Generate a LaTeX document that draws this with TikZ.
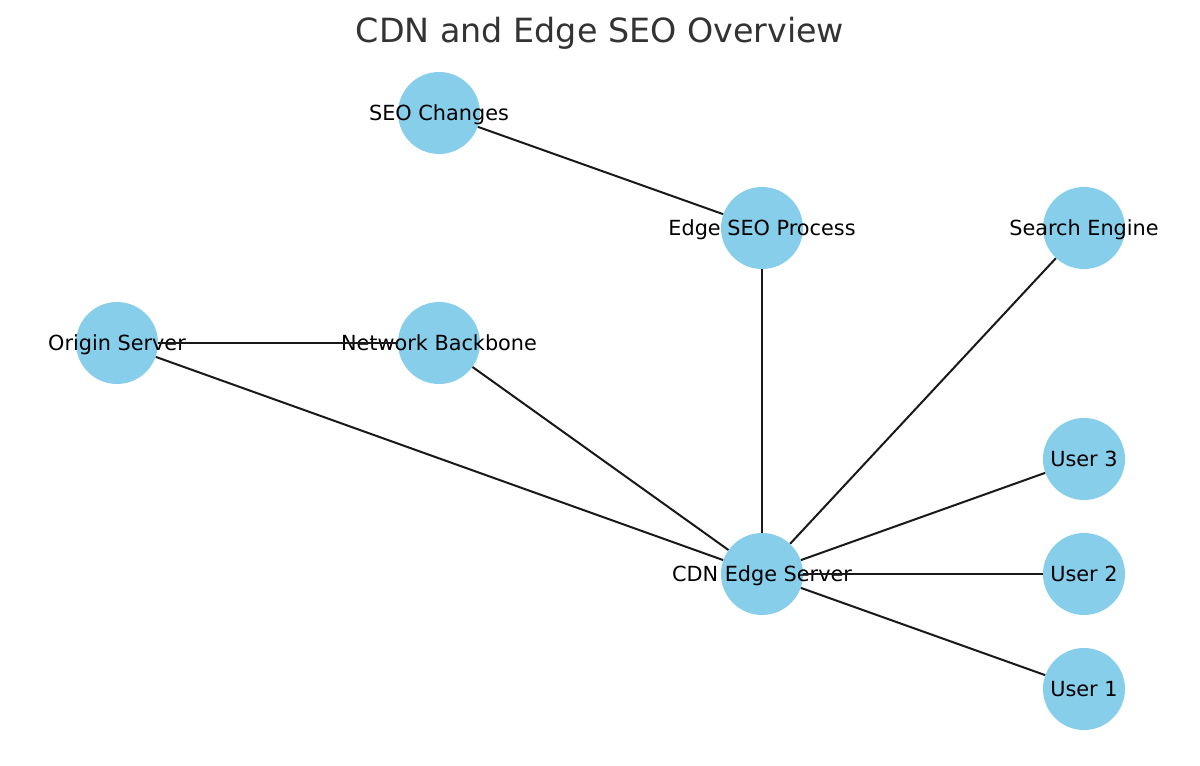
\documentclass[tikz,border=0pt]{standalone}
\usepackage{fontspec}
\setmainfont{DejaVu Sans}
\usepackage{xcolor}
\usepackage{tikz}
\definecolor{nodeblue}{RGB}{135,206,235}
\definecolor{titlegray}{RGB}{51,51,51}

\begin{document}
\begin{tikzpicture}[
  x=0.75pt,y=-0.75pt,
  host/.style={circle,fill=nodeblue,draw=none,minimum size=61.5pt,inner sep=0pt,
               label={[font=\fontsize{15.6}{18}\selectfont,text=black,
                       text height=11.4pt,text depth=3.7pt,yshift=-1.5pt]center:#1}},
  link/.style={line width=1.5pt,draw=black!90}
]
\useasboundingbox (0,0) rectangle (1200,766);

% Title.
\node[anchor=base,font=\fontsize{25}{30}\selectfont,text=titlegray] (title) at (600,43)
  {CDN and Edge SEO Overview};

% Upper level: the edge SEO path.
\node[host={SEO Changes}] (seo) at (439,113) {};
\node[host={Edge SEO Process}] (edgeseo) at (762,228) {};
\node[host={Search Engine}] (search) at (1084,228) {};

% Origin side.
\node[host={Origin Server}] (origin) at (117,343) {};
\node[host={Network Backbone}] (backbone) at (439,343) {};

% Edge server and the users it serves.
\node[host={CDN Edge Server}] (cdn) at (762,574) {};
\node[host={User 3}] (user3) at (1084,459) {};
\node[host={User 2}] (user2) at (1084,574) {};
\node[host={User 1}] (user1) at (1084,689) {};

% Connections.
\draw[link] (seo)--(edgeseo);
\draw[link] (edgeseo)--(cdn);
\draw[link] (search)--(cdn);
\draw[link] (origin)--(backbone);
\draw[link] (origin)--(cdn);
\draw[link] (backbone)--(cdn);
\draw[link] (cdn)--(user3);
\draw[link] (cdn)--(user2);
\draw[link] (cdn)--(user1);
\end{tikzpicture}
\end{document}
